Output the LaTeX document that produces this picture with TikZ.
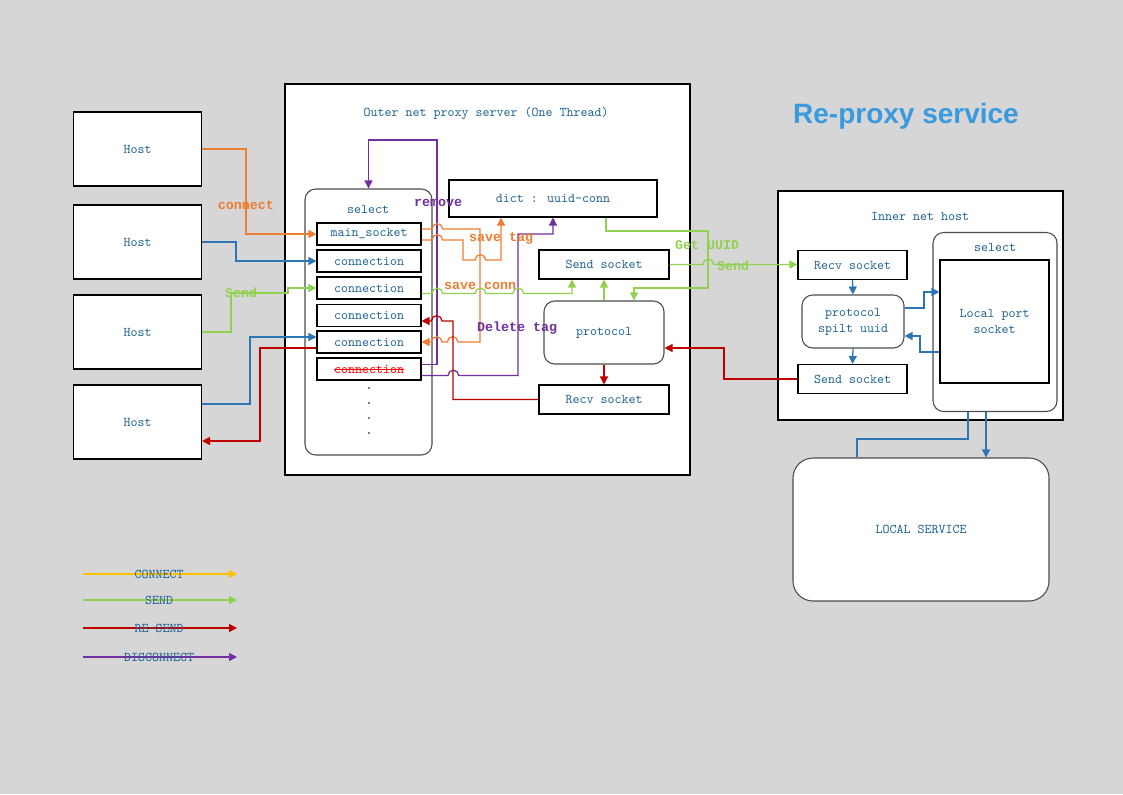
\documentclass[tikz,border=0pt]{standalone}
\usepackage{fontspec}
\usepackage{xcolor}
\usetikzlibrary{arrows.meta,calc}
\newfontfamily\titlefont{Liberation Sans}
\newfontfamily\lblfont{Liberation Mono}

\definecolor{bg}{HTML}{D6D6D6}
\definecolor{txt}{HTML}{1F6391}
\definecolor{cOrange}{HTML}{ED7D31}
\definecolor{cBlue}{HTML}{2E75B6}
\definecolor{cGreen}{HTML}{92D050}
\definecolor{cRed}{HTML}{C00000}
\definecolor{cPurple}{HTML}{7030A0}
\definecolor{cYellow}{HTML}{FFC000}
\definecolor{cTitle}{HTML}{3A9AE0}

\tikzset{
  box/.style={draw, line width=0.8pt, fill=white, inner sep=0pt, text=txt, font=\fontsize{10}{12}\selectfont\ttfamily},
  rbox/.style={box, draw=black!70, rounded corners=8pt},
  conn/.style={line width=0.95pt, -{Triangle[length=6pt,width=6pt]}},
  wire/.style={line width=0.95pt},
  lbl/.style={font=\lblfont\bfseries\fontsize{10}{12}\selectfont, inner sep=0pt},
  plain/.style={text=txt, font=\fontsize{10}{12}\selectfont\ttfamily, inner sep=0pt},
  jr/.style={insert path={arc[start angle=180,end angle=0,radius=4pt]}},
  jl/.style={insert path={arc[start angle=0,end angle=180,radius=4pt]}}
}

\begin{document}
\begin{tikzpicture}[x=0.75pt, y=-0.75pt]
    \useasboundingbox (0,0) rectangle (1123,794);
    \fill[bg] (0,0) rectangle (1123,794);

    % Title
    \node[text=cTitle, font=\titlefont\bfseries\fontsize{21}{25}\selectfont, inner sep=0pt] (title) at (906,116) {Re-proxy service};

    % Hosts
    \foreach \i/\y in {1/149,2/242,3/332,4/422}
        \node[box, minimum width=96pt, minimum height=55.5pt] (h\i) at (137.5,\y) {Host};

    % Outer net proxy server
    \node[box, minimum width=303.75pt, minimum height=293.25pt] (outer) at (487.5,279.5) {};
    \node[plain] (outertitle) at (486,113) {Outer net proxy server (One Thread)};
    \node[rbox, minimum width=95.25pt, minimum height=199.5pt] (sel) at (368.5,322) {};
    \node[plain] (seltitle) at (368,209) {select};
    \foreach \i/\y/\t in {0/234/main\_socket,1/261/connection,2/288/connection,3/315.5/connection,4/342/connection}
        \node[box, minimum width=78pt, minimum height=16.5pt] (c\i) at (369,\y) {\t};
    \node[box, text=red, minimum width=78pt, minimum height=16.5pt] (c5) at (369,369) {connection};
    \draw[red, line width=0.6pt] ($(c5.center)+(-35,0)$) -- ($(c5.center)+(35,0)$); % struck out
    \foreach \y in {388,403,418,433} \fill[txt] (369,\y) circle (0.9pt);
    \node[box, minimum width=156pt, minimum height=27.75pt] (dict) at (553,198.5) {dict : uuid-conn};
    \node[box, minimum width=97.5pt, minimum height=21.75pt] (ss) at (604,264.5) {Send socket};
    \node[rbox, minimum width=90pt, minimum height=47.25pt] (proto) at (604,332.5) {protocol};
    \node[box, minimum width=97.5pt, minimum height=21.75pt] (rs) at (604,399.5) {Recv socket};

    % Inner net host
    \node[box, minimum width=213.75pt, minimum height=171.75pt] (inner) at (920.5,305.5) {};
    \node[plain] (innertitle) at (920,216) {Inner net host};
    \node[box, minimum width=81.75pt, minimum height=21.75pt] (rs2) at (852.5,265) {Recv socket};
    \node[rbox, align=center, minimum width=76.5pt, minimum height=39.75pt] (split) at (853,321.5) {protocol\\spilt uuid};
    \node[box, minimum width=81.75pt, minimum height=21.75pt] (ss2) at (852.5,379) {Send socket};
    \node[rbox, minimum width=93pt, minimum height=134.25pt] (sel2) at (995,322) {};
    \node[plain] (sel2title) at (995,247) {select};
    \node[box, align=center, minimum width=81.75pt, minimum height=92.25pt] (lp) at (994.5,321.5) {Local port\\socket};
    \node[rbox, rounded corners=15pt, minimum width=192pt, minimum height=107.25pt] (ls) at (921,529.5) {LOCAL SERVICE};

    % Host side
    \draw[conn, cOrange] (h1.east) -- (246,149) |- (c0.west);
    \draw[conn, cBlue] (h2.east) -- (236,242) |- (c1.west);
    \draw[conn, cGreen] (h3.east) -- (231,332) -- (231,293) -- (288,293) |- (c2.west);
    \draw[conn, cBlue] ($(h4.east)+(0,-18)$) -- (250,404) |- ($(c4.west)+(0,-5)$);
    \draw[conn, cRed] ($(c4.west)+(0,6)$) -- (260,348) |- ($(h4.east)+(0,19)$);
    \node[lbl, text=cOrange] (lconnect) at (246,205) {connect};
    \node[lbl, text=cGreen] (lsend) at (241,293) {Send};

    % Inside the server
    \draw[conn, cPurple] ($(c5.east)+(0,-4.5)$) -- (437,364.5) -- (437,140) -| (sel.north);
    \draw[conn, cPurple] ($(c5.east)+(0,6.5)$) -- (448,375.5) [jr] -- (518,375.5) -- (518,234) -| (dict.south);
    \draw[conn, cOrange] ($(c0.east)+(0,-5)$) -- (432,229) [jr] -- (480,229) -- (480,342) -- (458,342) [jl] -- (442,342) [jl] -- (c4.east);
    \draw[conn, cOrange] ($(c0.east)+(0,6)$) -- (432,240) [jr] -- (463,240) -- (463,260) -- (475,260) [jr] -- (501,260) -- (501,0 |- dict.south);
    \draw[conn, cGreen] ($(c2.east)+(0,5.5)$) -- (432,293.5) [jr] -- (475,293.5) [jr] -- (513,293.5) [jr] -- (572,293.5) -- (572,0 |- ss.south);
    \draw[conn, cRed] (rs.west) -- (453,399.5) -- (453,321) -- (442,321) [jl] -- ($(c3.east)+(0,5.5)$);
    \draw[conn, cGreen] (proto.north) -- (ss.south);
    \draw[conn, cGreen] (606,0 |- dict.south) -- (606,231) -- (708,231) -- (708,288) -- (634,288) -- (634,0 |- proto.north);
    \draw[conn, cRed] (proto.south) -- (rs.north);
    \node[lbl, text=cPurple] (lremove) at (438,203) {remove};
    \node[lbl, text=cPurple] (ldelete) at (517,328) {Delete tag};
    \node[lbl, text=cOrange] (lsavetag) at (501,238) {save tag};
    \node[lbl, text=cOrange] (lsaveconn) at (480,286) {save conn};
    \node[lbl, text=cGreen] (lgetuuid) at (707,245) {Get UUID};

    % Between the hosts
    \draw[conn, cGreen] (ss.east) -- (703,264.5) [jr] -- (rs2.west |- ss.east);
    \draw[conn, cRed] (ss2.west) -- (724,379) -- (724,348) -- ($(proto.east)+(0,15.5)$);
    \node[lbl, text=cGreen] (lsend2) at (733,266) {Send};

    % Inner net host side
    \draw[conn, cBlue] (rs2.south) -- (split.north);
    \draw[conn, cBlue] (split.south) -- (ss2.north);
    \draw[conn, cBlue] ($(split.east)+(0,-13.5)$) -- (924,308) -- (924,292) -- (lp.west |- 0,292);
    \draw[conn, cBlue] (lp.west |- 0,352) -- (920,352) -- (920,336) -- (split.east |- 0,336);
    \draw[wire, cBlue] (968,0 |- sel2.south) -- (968,439) -- (857,439) -- (857,0 |- ls.north);
    \draw[conn, cBlue] (986,0 |- sel2.south) -- (986,0 |- ls.north);

    % Legend
    \foreach \i/\y/\c/\t in {1/574/cYellow/CONNECT,2/600/cGreen/SEND,3/628/cRed/RE-SEND,4/657/cPurple/DISCONNECT} {
        \coordinate (lg\i a) at (83,\y);
        \coordinate (lg\i b) at (237,\y);
        \draw[conn, \c] (lg\i a) -- (lg\i b);
        \node[plain] (lg\i) at (159,\y) {\t};
    }
\end{tikzpicture}
\end{document}
